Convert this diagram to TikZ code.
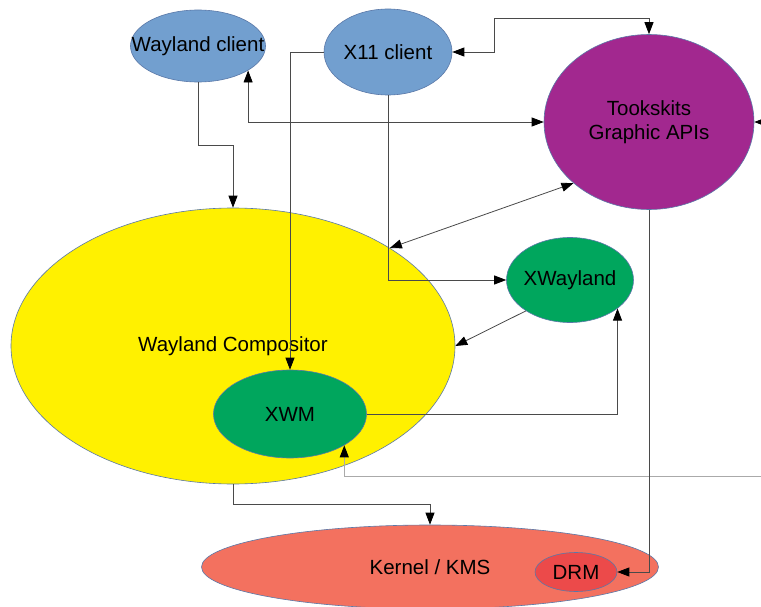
\documentclass[tikz,border=0pt]{standalone}
\usepackage{fontspec}
\setmainfont{Liberation Sans}
\usetikzlibrary{shapes.geometric,arrows.meta,calc}
\definecolor{cblue}{HTML}{729FCF}
\definecolor{cpurple}{HTML}{A2288F}
\definecolor{cyellow}{HTML}{FFF100}
\definecolor{cgreen}{HTML}{00A65D}
\definecolor{ckernel}{HTML}{F3715F}
\definecolor{cdrm}{HTML}{EC4A4A}
\definecolor{edgeblue}{HTML}{5A78A8}
\definecolor{linegray}{HTML}{4A4A4A}
\definecolor{lightline}{HTML}{AAAAAA}
\begin{document}
\begin{tikzpicture}[x=1pt,y=-1pt,
  blob/.style={ellipse,inner sep=0pt,draw=edgeblue,line width=0.6pt},
  txt/.style={font=\fontsize{20.5}{24}\selectfont,text=black,align=center,inner sep=0pt},
  conn/.style={draw=linegray,line width=0.8pt},
  arr/.style={-{Triangle[length=12pt,width=9pt,color=black]}},
  biarr/.style={{Triangle[length=12pt,width=9pt,color=black]}-{Triangle[length=12pt,width=9pt,color=black]}}
]
\path[clip] (0,0) rectangle (761,607);
\fill[white] (0,0) rectangle (761,607);

% nodes
\node[blob,fill=cyellow,minimum width=444pt,minimum height=276pt,
  label={[txt]center:Wayland Compositor}] (comp) at (233,346) {};
\node[blob,fill=cgreen,minimum width=153pt,minimum height=88pt,
  label={[txt]center:XWM}] (xwm) at (290,414) {};
\node[blob,fill=cblue,minimum width=135pt,minimum height=72pt,
  label={[txt]center:Wayland client}] (wc) at (198,46) {};
\node[blob,fill=cblue,minimum width=128pt,minimum height=86pt,
  label={[txt]center:X11 client}] (x11) at (388,52) {};
\node[blob,fill=cpurple,minimum width=210pt,minimum height=175pt,
  label={[txt]center:Tookskits\\Graphic APIs}] (tk) at (649,122) {};
\node[blob,fill=cgreen,minimum width=127pt,minimum height=85pt,
  label={[txt]center:XWayland}] (xwl) at (570,280) {};
\node[blob,fill=ckernel,minimum width=457pt,minimum height=84pt,
  label={[txt]center:Kernel / KMS}] (kern) at (430,567) {};
\node[blob,fill=cdrm,minimum width=82pt,minimum height=39pt,
  label={[txt]center:DRM}] (drm) at (576,572) {};

\coordinate (offA) at (775,122);
\coordinate (offB) at (775,476);

% connectors
\draw[conn,arr] (wc.south) |- (comp.north |- 0,145) -- (comp.north);
\draw[conn,biarr] (tk.west) -| (wc.-26);
\draw[conn,biarr] (x11.east) -| (494,18) -| (tk.north);
\draw[conn,arr] (x11.west) -| (xwm.north);
\draw[conn,arr] (x11.south) |- (xwl.west);
\draw[conn,biarr] (comp.32) -- (tk.219);
\draw[conn,arr] (xwl.215) -- (comp.east);
\draw[conn,arr] (xwm.east) -| (xwl.-31);
\draw[conn,draw=lightline,line width=1pt,arr] (offB) -| (xwm.-30);
\draw[conn,arr] (offA) -- (tk.east);
\draw[conn,arr] (comp.south) |- (kern.north |- 0,504) -- (kern.north);
\draw[conn,arr] (tk.south) |- (drm.east);
\end{tikzpicture}
\end{document}
